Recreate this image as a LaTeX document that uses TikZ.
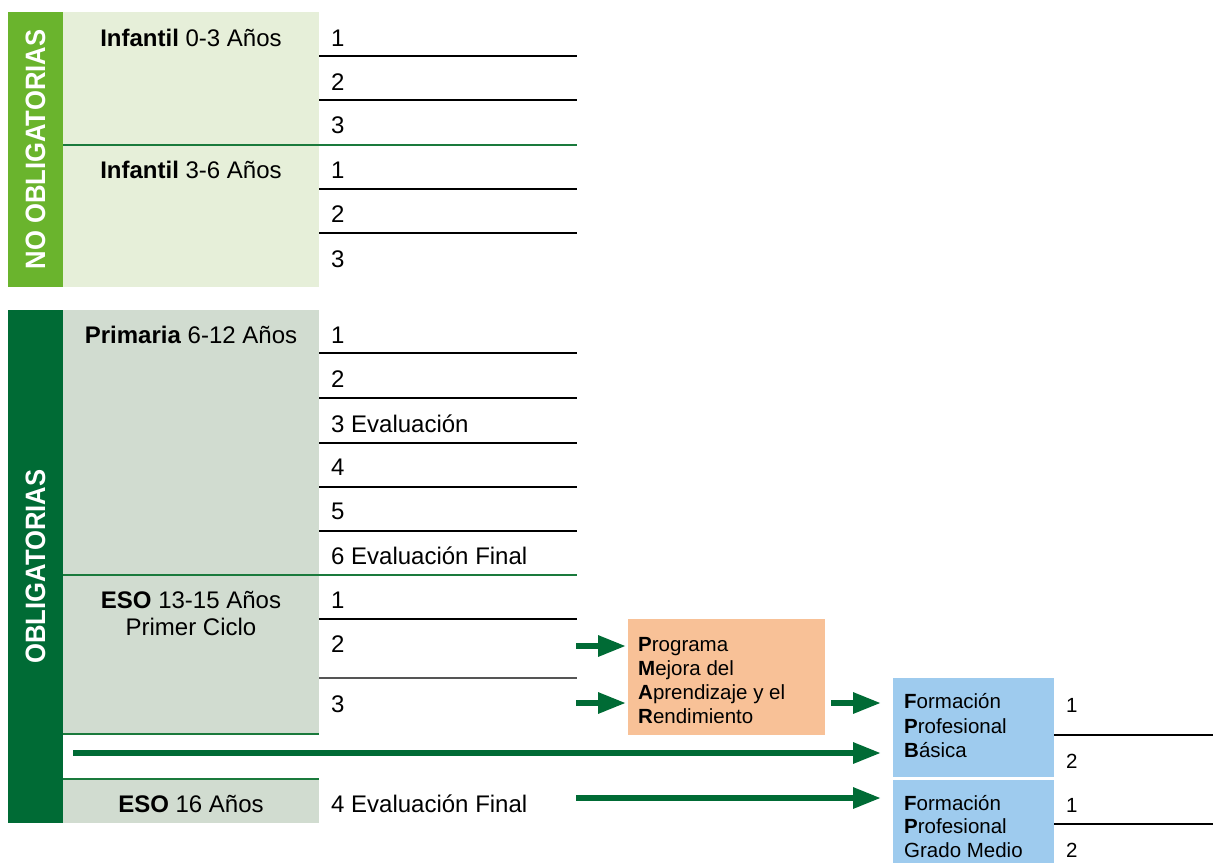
\documentclass[tikz,border=0pt]{standalone}
\usepackage{fontspec}
\usepackage{graphicx}
\setmainfont{Liberation Sans}
\usetikzlibrary{arrows.meta}
\definecolor{gbright}{HTML}{6AB42D}
\definecolor{glight}{HTML}{E6EFD9}
\definecolor{gdark}{HTML}{006B35}
\definecolor{ggrey}{HTML}{D1DCD0}
\definecolor{orangebox}{HTML}{F8C197}
\definecolor{bluebox}{HTML}{9ECBEE}
\definecolor{sepgreen}{HTML}{1A7A3C}
\definecolor{greyline}{HTML}{555555}
\begin{document}
\begin{tikzpicture}[x=1pt,y=-1pt,
 box/.style={inner sep=0,outer sep=0,anchor=north west,draw=none},
 lbl/.style={inner sep=0,anchor=base,font=\fontsize{24}{28}\selectfont},
 num/.style={inner sep=0,anchor=base west,font=\fontsize{24}{28}\selectfont},
 small/.style={inner sep=0,anchor=base west,font=\fontsize{20.5}{24}\selectfont},
 vert/.style={rotate=90,text=white,font=\fontsize{28}{32}\selectfont\bfseries,inner sep=0},
 rowline/.style={line width=1.5pt,black},
 rowgrey/.style={line width=1.5pt,greyline},
 grpline/.style={line width=2.5pt,sepgreen},
 arr/.style={line width=6pt,gdark,-{Triangle[length=28pt,width=20pt]}}]
\useasboundingbox (0,0) rectangle (1213,863);
% --- No obligatorias
\node[box,fill=gbright,minimum width=55pt,minimum height=275pt] (nobar) at (8,12) {};
\node[box,fill=glight,minimum width=256pt,minimum height=275pt] (infbox) at (63,12) {};
\node[vert] (nolbl) at (nobar.center) {\scalebox{0.915}[1]{NO OBLIGATORIAS}};
\foreach \yy in {56,100,189,233} \draw[rowline] (319,\yy) -- (577,\yy);
\draw[grpline] (63,145) -- (577,145);
\node[lbl] (inf1) at (191,46) {\textbf{Infantil} 0-3 Años};
\node[lbl] (inf2) at (191,178) {\textbf{Infantil} 3-6 Años};
\foreach \yy/\t in {46/1,90/2,133/3,178/1,222/2,267/3}
  \node[num] (n\yy) at (331,\yy) {\t};
% --- Obligatorias
\node[box,fill=gdark,minimum width=55pt,minimum height=513pt] (obar) at (8,310) {};
\node[vert] (olbl) at (obar.center) {\scalebox{0.915}[1]{OBLIGATORIAS}};
\node[box,fill=ggrey,minimum width=256pt,minimum height=265pt] (primbox) at (63,310) {};
\node[box,fill=ggrey,minimum width=256pt,minimum height=159pt] (eso1box) at (63,575) {};
\node[box,fill=ggrey,minimum width=256pt,minimum height=44pt] (eso2box) at (63,779) {};
\foreach \yy in {353,398,443,487,531,619} \draw[rowline] (319,\yy) -- (577,\yy);
\draw[rowgrey] (319,678) -- (577,678);
\draw[grpline] (63,575) -- (577,575);
\draw[grpline] (63,734) -- (319,734);
\draw[grpline] (63,779) -- (319,779);
\node[lbl] (prim) at (191,343) {\textbf{Primaria} 6-12 Años};
\node[lbl] (eso1) at (191,608) {\textbf{ESO} 13-15 Años};
\node[lbl] (eso1b) at (191,635) {Primer Ciclo};
\node[lbl] (eso2) at (191,812) {\textbf{ESO} 16 Años};
\foreach \yy/\t in {343/1,387/2,432/3 Evaluación,475/4,519/5,564/6 Evaluación Final,608/1,652/2,712/3,812/4 Evaluación Final}
  \node[num] (m\yy) at (331,\yy) {\t};
% --- PMAR
\node[box,fill=orangebox,minimum width=197pt,minimum height=116pt] (pmar) at (628,619) {};
\node[small] (p1) at (638,651) {\textbf{P}rograma};
\node[small] (p2) at (638,675) {\textbf{M}ejora del};
\node[small] (p3) at (638,699) {\textbf{A}prendizaje y el};
\node[small] (p4) at (638,723) {\textbf{R}endimiento};
% --- FP Basica
\node[box,fill=bluebox,minimum width=161pt,minimum height=99pt] (fpb) at (893,678) {};
\node[small] (f1) at (904,708) {\textbf{F}ormación};
\node[small] (f2) at (904,733) {\textbf{P}rofesional};
\node[small] (f3) at (904,757) {\textbf{B}ásica};
% --- FP Grado Medio
\node[box,fill=bluebox,minimum width=161pt,minimum height=83pt] (fpgm) at (893,780) {};
\node[small] (g1) at (904,810) {\textbf{F}ormación};
\node[small] (g2) at (904,833) {\textbf{P}rofesional};
\node[small] (g3) at (904,857) {Grado Medio};
\draw[rowline] (1054,735) -- (1213,735);
\draw[rowline] (1054,824) -- (1213,824);
\node[small] (r1) at (1066,712) {1};
\node[small] (r2) at (1066,768) {2};
\node[small] (r3) at (1066,812) {1};
\node[small] (r4) at (1066,857) {2};
% --- arrows
\coordinate (a1) at (576,646);
\coordinate (a2) at (576,703);
\coordinate (a4) at (73,753);
\coordinate (a5) at (576,798);
\draw[arr,shorten >=2pt] (a1) -- (a1 -| pmar.west);
\draw[arr,shorten >=2pt] (a2) -- (a2 -| pmar.west);
\draw[arr,shorten <=6pt,shorten >=12pt] (a2 -| pmar.east) -- (a2 -| fpb.west);
\draw[arr,shorten >=12pt] (a4) -- (a4 -| fpb.west);
\draw[arr,shorten >=12pt] (a5) -- (a5 -| fpgm.west);
\end{tikzpicture}
\end{document}
